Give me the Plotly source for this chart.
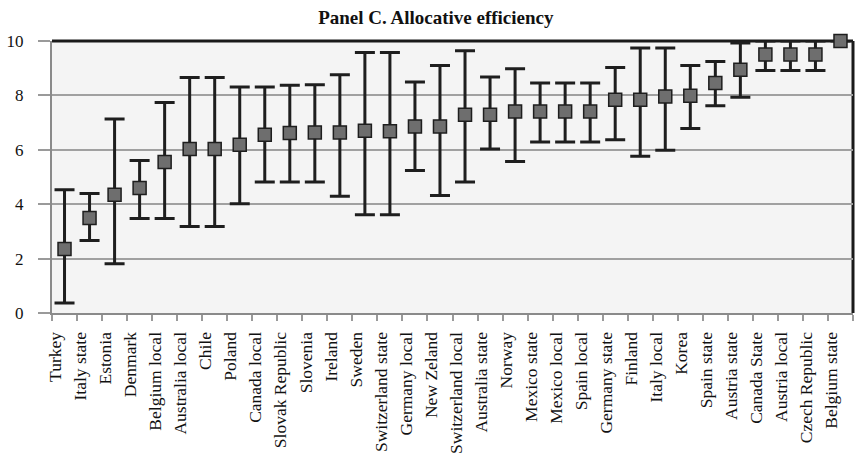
import plotly.graph_objects as go

categories = ["Turkey", "Italy state", "Estonia", "Denmark", "Belgium local", "Australia local",
              "Chile", "Poland", "Canada local", "Slovak Republic", "Slovenia", "Ireland",
              "Sweden", "Switzerland state", "Germany local", "New Zeland", "Switzerland local",
              "Australia state", "Norway", "Mexico state", "Mexico local", "Spain local",
              "Germany state", "Finland", "Italy local", "Korea", "Spain state", "Austria state",
              "Canada State", "Austria local", "Czech Republic", "Belgium state"]
values = [2.35, 3.49, 4.35, 4.60, 5.55, 6.03, 6.03, 6.19, 6.55, 6.62, 6.64, 6.64,
          6.70, 6.68, 6.86, 6.86, 7.29, 7.29, 7.41, 7.41, 7.41, 7.41,
          7.84, 7.84, 7.96, 7.99, 8.46, 8.94, 9.50, 9.50, 9.50, 10.0]
upper = [4.53, 4.39, 7.13, 5.61, 7.74, 8.66, 8.66, 8.31, 8.31, 8.37, 8.39, 8.76,
         9.58, 9.58, 8.49, 9.10, 9.64, 8.68, 8.98, 8.46, 8.46, 8.46,
         9.03, 9.74, 9.74, 9.10, 9.25, 9.93, 10.0, 10.0, 10.0, 10.0]
lower = [0.37, 2.67, 1.81, 3.47, 3.47, 3.18, 3.18, 4.02, 4.82, 4.82, 4.82, 4.29,
         3.61, 3.61, 5.24, 4.32, 4.82, 6.03, 5.57, 6.29, 6.29, 6.29,
         6.37, 5.76, 5.98, 6.78, 7.62, 7.93, 8.92, 8.92, 8.92, 10.0]
yticks = [0, 2, 4, 6, 8, 10]

err_plus = [u - v for u, v in zip(upper, values)]
err_minus = [v - l for v, l in zip(values, lower)]

SERIF = "Liberation Serif, Times New Roman, serif"

fig = go.Figure()
fig.add_trace(go.Scatter(
    x=categories, y=values, mode="markers",
    marker=dict(symbol="square", size=13, color="#6e6e6e",
                line=dict(color="#1e1e1e", width=1.5)),
    error_y=dict(type="data", symmetric=False, array=err_plus, arrayminus=err_minus,
                 color="#1e1e1e", thickness=3, width=10, visible=True),
    cliponaxis=False, showlegend=False,
))

# top and right dark border
fig.add_shape(type="line", xref="paper", yref="paper", x0=0, x1=1, y0=1, y1=1,
              line=dict(color="#1a1a1a", width=3), layer="below")
fig.add_shape(type="line", xref="paper", yref="paper", x0=1, x1=1, y0=0, y1=1,
              line=dict(color="#1a1a1a", width=3), layer="below")

fig.update_layout(
    width=858, height=460,
    margin=dict(l=52, r=5, t=41, b=147, autoexpand=False),
    paper_bgcolor="white", plot_bgcolor="#f4f4f4",
    font=dict(family=SERIF, color="#111111", size=17),
    title=dict(text="<b>Panel C. Allocative efficiency</b>", x=0.508, xanchor="center",
               y=0.962, yanchor="middle", font=dict(family=SERIF, size=19, color="#111111")),
    xaxis=dict(type="category", tickangle=-90, showgrid=False, showline=True,
               linecolor="#8a8a8a", linewidth=2, ticks="outside", tickson="boundaries",
               ticklen=6, tickwidth=2, tickcolor="#9a9a9a", automargin=False,
               ticklabelstandoff=10, ticklabelshift=-9,
               tickfont=dict(family=SERIF, size=17.5, color="#111111"),
               range=[-0.5, len(categories) - 0.5]),
    yaxis=dict(range=[0, 10], tickvals=yticks, showgrid=True, gridcolor="#a0a0a0",
               gridwidth=2, showline=True, linecolor="#8a8a8a", linewidth=2,
               ticks="outside", ticklen=12, tickwidth=2, tickcolor="#9a9a9a",
               automargin=False, ticklabelstandoff=11,
               zeroline=False, tickfont=dict(family=SERIF, size=17, color="#111111")),
)

fig.write_html("out.html", config={"displayModeBar": False},
               post_script="document.body.style.margin='0';document.body.style.overflow='hidden';")
